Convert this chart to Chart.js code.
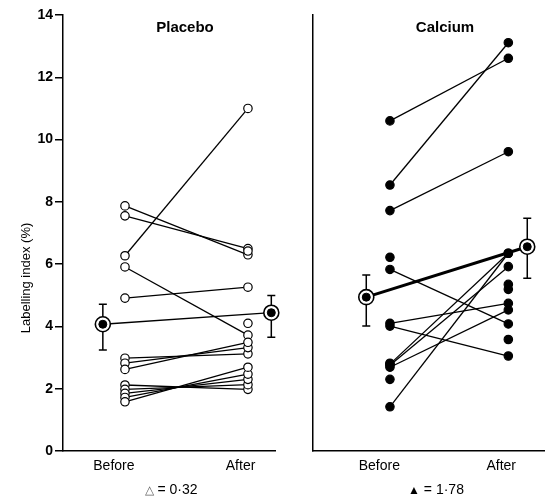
<!DOCTYPE html>
<html>
<head>
<meta charset="utf-8">
<script src="https://cdn.jsdelivr.net/npm/chart.js@4.4.1/dist/chart.umd.min.js"></script>
<style>
    body { margin: 0; background: #fff; font-family: "Liberation Sans", Arial, sans-serif; }
    #wrap { position: relative; width: 554px; height: 500px; overflow: hidden; }
    canvas { position: absolute; top: 0; }
    .txt { position: absolute; color: #000; white-space: nowrap; transform: translate(-50%, -50%); }
</style>
</head>
<body>
<div id="wrap">
    <canvas id="placeboChart" width="290" height="500" style="left:0"></canvas>
    <canvas id="calciumChart" width="261" height="500" style="left:293px"></canvas>
    <div class="txt" style="left:185px;top:26px;font-weight:bold;font-size:15px">Placebo</div>
    <div class="txt" style="left:445px;top:26px;font-weight:bold;font-size:15px">Calcium</div>
    <div class="txt" style="left:171px;top:489px;font-size:14px"><span style="font-size:12px;color:#666">△</span> = 0·32</div>
    <div class="txt" style="left:436px;top:489px;font-size:14px"><span style="font-size:12px">▲</span> = 1·78</div>
</div>
<script>
const categories = ['Before', 'After'];
const yTicks = [0, 2, 4, 6, 8, 10, 12, 14];
const yTitle = 'Labelling index (%)';

// placebo group, one entry per patient
const placeboBefore = [7.87, 7.55, 6.27, 5.91, 4.91, 2.98, 2.82, 2.62, 2.12, 1.98, 1.85, 1.72, 1.58];
const placeboAfter  = [6.30, 6.50, 11.0, 3.72, 5.26, 3.12, 3.32, 3.49, 1.98, 2.13, 2.30, 2.47, 2.69];
const placeboAfterExtra = [6.42, 4.1];
const placeboMean = [4.07, 4.44];
const placeboLow  = [3.24, 3.65];
const placeboHigh = [4.71, 4.99];

// calcium group
const calciumBefore = [10.6, 8.54, 7.72, 5.83, 4.10, 4.01, 2.79, 2.75, 2.69, 1.42];
const calciumAfter  = [12.61, 13.11, 9.61, 4.08, 4.74, 3.05, 6.35, 5.92, 4.53, 6.35];
const calciumBeforeExtra = [6.22, 2.82, 2.30];
const calciumAfterExtra  = [5.35, 5.19, 3.58];
const calciumMean = [4.94, 6.56];
const calciumLow  = [4.01, 5.55];
const calciumHigh = [5.65, 7.47];

const FONT = '"Liberation Sans", Arial, sans-serif';
const labelPos = [0.91, 1.94];

const errorBars = {
    id: 'errorBars',
    beforeDatasetsDraw(chart, args, opts) {
        const { ctx, scales: { x, y } } = chart;
        ctx.save();
        ctx.strokeStyle = '#000';
        ctx.lineWidth = 1.5;
        opts.xs.forEach((xv, i) => {
            const px = x.getPixelForValue(xv);
            const top = y.getPixelForValue(opts.high[i]);
            const bot = y.getPixelForValue(opts.low[i]);
            ctx.beginPath();
            ctx.moveTo(px, top); ctx.lineTo(px, bot);
            ctx.moveTo(px - 4, top); ctx.lineTo(px + 4, top);
            ctx.moveTo(px - 4, bot); ctx.lineTo(px + 4, bot);
            ctx.stroke();
        });
        ctx.restore();
    },
    afterDraw(chart, args, opts) {
        if (!opts.title) return;
        const { ctx, chartArea } = chart;
        ctx.save();
        ctx.translate(26, 278);
        ctx.rotate(-Math.PI / 2);
        ctx.fillStyle = '#000';
        ctx.font = '13px ' + FONT;
        ctx.textAlign = 'center';
        ctx.textBaseline = 'middle';
        ctx.fillText(opts.title, 0, 0);
        ctx.restore();
    }
};

function buildDatasets(before, after, beforeExtra, afterExtra, mean, meanX, open, meanWidth) {
    const ds = [];
    before.forEach((b, i) => ds.push({
        data: [{ x: 1, y: b }, { x: 2, y: after[i] }],
        showLine: true, borderColor: '#000', borderWidth: 1.3, pointRadius: 0, clip: false
    }));
    const pts = before.map(v => ({ x: 1, y: v }))
        .concat(beforeExtra.map(v => ({ x: 1, y: v })))
        .concat(after.map(v => ({ x: 2, y: v })))
        .concat(afterExtra.map(v => ({ x: 2, y: v })));
    ds.push({
        data: pts, showLine: false, pointRadius: 4.2, pointBorderWidth: 1.2,
        pointBorderColor: '#000', pointBackgroundColor: open ? '#fff' : '#000', clip: false
    });
    const m = mean.map((v, i) => ({ x: meanX[i], y: v }));
    ds.push({ data: m, showLine: true, borderColor: '#000', borderWidth: meanWidth, pointRadius: 0, clip: false });
    ds.push({ data: m, showLine: false, pointRadius: 7.5, pointBorderWidth: 1.6,
        pointBorderColor: '#000', pointBackgroundColor: '#fff', clip: false });
    ds.push({ data: m, showLine: false, pointRadius: 4, pointBorderWidth: 1,
        pointBorderColor: '#000', pointBackgroundColor: '#000', clip: false });
    // chart.js paints dataset 0 last, so draw order = array order via `order`
    ds.forEach((d, i) => { d.order = ds.length - i; });
    return ds;
}

function makeChart(id, datasets, xMin, xMax, yWidth, showY, padRight, bars) {
    const ctx = document.getElementById(id).getContext('2d');
    return new Chart(ctx, {
        type: 'scatter',
        data: { datasets: datasets },
        options: {
            responsive: false,
            animation: false,
            layout: { padding: { top: 15, right: padRight, left: 0, bottom: 0 } },
            plugins: {
                legend: { display: false },
                tooltip: { enabled: false },
                errorBars: bars
            },
            scales: {
                x: {
                    type: 'linear', min: xMin, max: xMax,
                    afterBuildTicks: s => { s.ticks = labelPos.map(v => ({ value: v })); },
                    afterFit: s => { s.height = 49; },
                    ticks: {
                        callback: (v, i) => categories[i],
                        color: '#000', font: { size: 14, family: FONT }, padding: 7,
                        autoSkip: false, maxRotation: 0
                    },
                    grid: { display: false, drawTicks: false },
                    border: { display: true, color: '#000', width: 1.5 }
                },
                y: {
                    min: 0, max: 14,
                    afterBuildTicks: s => { s.ticks = yTicks.map(v => ({ value: v })); },
                    afterFit: s => { s.width = yWidth; },
                    ticks: {
                        display: showY, color: '#000',
                        font: { size: 14, weight: 'bold', family: FONT }, padding: 2
                    },
                    grid: {
                        display: showY, drawOnChartArea: false, drawTicks: showY,
                        tickLength: 8, color: '#000', lineWidth: 1.5
                    },
                    border: { display: true, color: '#000', width: 1.5 }
                }
            }
        },
        plugins: [errorBars]
    });
}

const placeboMeanX = [0.82, 2.19];
const calciumMeanX = [0.80, 2.16];

makeChart('placeboChart',
    buildDatasets(placeboBefore, placeboAfter, [], placeboAfterExtra, placeboMean, placeboMeanX, true, 1.3),
    0.496, 2.22, 63, true, 15,
    { xs: placeboMeanX, low: placeboLow, high: placeboHigh, title: yTitle });

makeChart('calciumChart',
    buildDatasets(calciumBefore, calciumAfter, calciumBeforeExtra, calciumAfterExtra, calciumMean, calciumMeanX, false, 3),
    0.35, 2.309, 20, false, 0,
    { xs: calciumMeanX, low: calciumLow, high: calciumHigh });
</script>
</body>
</html>
